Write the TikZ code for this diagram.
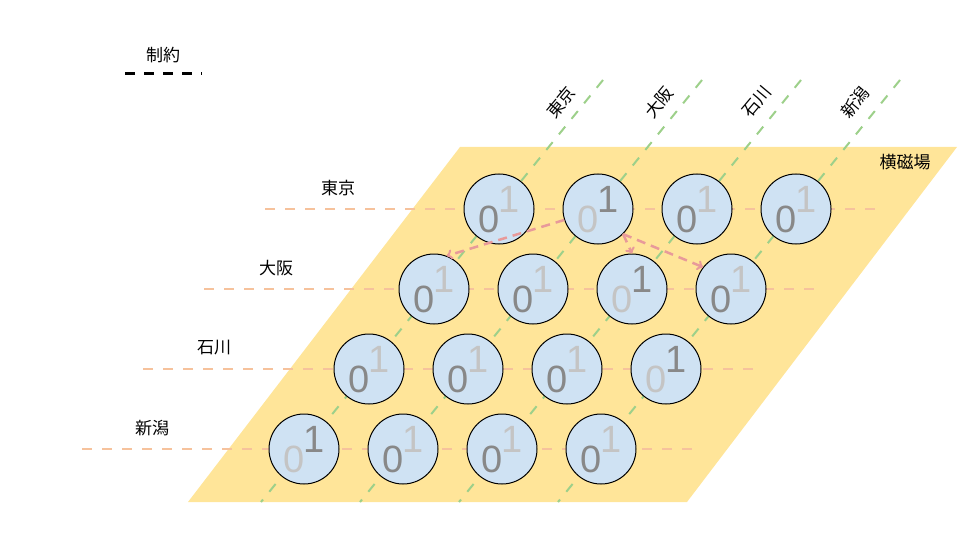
\documentclass[tikz,border=0pt]{standalone}
\usepackage{fontspec}
\setmainfont{Liberation Sans}
\newfontfamily\cjk{Noto Sans CJK JP}
\usepackage{tikz}

\definecolor{field}{HTML}{FFE599}
\definecolor{qbit}{HTML}{CFE2F3}
\definecolor{rowline}{HTML}{F6C29C}
\definecolor{colline}{HTML}{9DD08A}
\definecolor{flip}{HTML}{E89A9A}
\definecolor{digdark}{HTML}{888888}
\definecolor{diglight}{HTML}{C4C4C4}

\begin{document}
\begin{tikzpicture}[x=1pt, y=-1pt,
		spin/.style={circle, draw=black, line width=1pt, fill=qbit, minimum size=70pt, inner sep=0pt},
		digit/.style={font=\fontsize{38}{38}\selectfont, inner sep=0pt},
		city/.style={font=\cjk\fontsize{17}{20}\selectfont, inner sep=0pt},
		rowcons/.style={draw=rowline, line width=2pt, dash pattern=on 10pt off 10pt},
		colcons/.style={draw=colline, line width=2pt, dash pattern=on 10pt off 10pt},
		move/.style={draw=flip, line width=2.5pt, dash pattern=on 9pt off 6pt, ->}]
			\useasboundingbox (0,0) rectangle (960,540);
			
			\fill[field] (460,147) -- (957,147) -- (687,502) -- (188,502) -- cycle;
			\node[city] (fieldname) at (905,162){横磁場};
			
			\node[city] (cons) at (163,55){制約};
			\draw[line width=3pt, dash pattern=on 10pt off 9pt] (125,74) -- (202,74);
			
			\foreach \r/\name in {1/東京, 2/大阪, 3/石川, 4/新潟}{
				\node[city] (row\r) at ({338-62*(\r-1)}, {188+80*(\r-1)}){\name};
				\draw[rowcons] ({265-61*(\r-1)}, {209+80*(\r-1)}) -- ({878-62*(\r-1)}, {209+80*(\r-1)});
			}
			\foreach \c/\name in {1/東京, 2/大阪, 3/石川, 4/新潟}{
				\node[city, rotate=50] (col\c) at ({561+98*(\c-1)}, 102){\name};
				\draw[colcons] ({603+99*(\c-1)}, 80) -- ({261+99*(\c-1)}, 502);
			}
			
			\foreach \r/\c/\v in {1/1/0, 1/2/1, 1/3/0, 1/4/0, 2/1/0, 2/2/0, 2/3/1, 2/4/0,
					3/1/0, 3/2/0, 3/3/0, 3/4/1, 4/1/1, 4/2/0, 4/3/0, 4/4/0}{
				\ifnum\v=0 \def\zcol{digdark}\def\ocol{diglight}\else\def\zcol{diglight}\def\ocol{digdark}\fi
				\node[spin] (s\r\c) at ({499+99*(\c-1)-65*(\r-1)}, {209+80*(\r-1)}){};
				\node[digit, text=\zcol] (s\r\c-z) at ([xshift=-10pt, yshift=-10pt]s\r\c.center){0};
				\node[digit, text=\ocol] (s\r\c-o) at ([xshift=10pt, yshift=10pt]s\r\c.center){1};
			}
			
			\draw[move] (s12.198) -- (s21.69);
			\draw[move] (s12.315) -- (s23.90);
			\draw[move] (s12.315) -- (s24.142);
			
		\end{tikzpicture}
\end{document}
